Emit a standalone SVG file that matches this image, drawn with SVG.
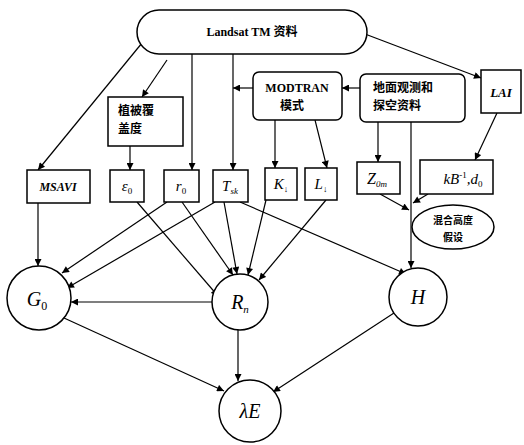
<svg xmlns="http://www.w3.org/2000/svg" width="524" height="445" viewBox="0 0 524 445">
<style>
.box{fill:#fff;stroke:#000;stroke-width:1.5}
.ln{fill:none;stroke:#000;stroke-width:1.2}
.m{font-family:"Liberation Serif","Noto Sans CJK SC",serif;font-style:italic;fill:#000;text-anchor:middle}
.c{font-family:"Liberation Serif","Noto Sans CJK SC",serif;font-weight:bold;fill:#000}
.a{marker-end:url(#ah)}
</style>
<defs>
<marker id="ah" viewBox="0 0 10 10" refX="10" refY="5" markerWidth="8" markerHeight="7" markerUnits="userSpaceOnUse" orient="auto">
<path d="M0,0 L10,5 L0,10 z" fill="#000"/>
</marker>
</defs>
<rect width="524" height="445" fill="#fff"/>
<g id="connectors">
<line class="ln a" x1="142" y1="43" x2="38" y2="170"/>
<line class="ln a" x1="167" y1="60" x2="142" y2="97"/>
<line class="ln a" x1="192" y1="54" x2="192" y2="170"/>
<line class="ln a" x1="233" y1="54" x2="233" y2="170"/>
<line class="ln a" x1="365" y1="34" x2="481" y2="78"/>
<line class="ln a" x1="130" y1="146" x2="130" y2="170"/>
<line class="ln a" x1="253" y1="88" x2="233" y2="88"/>
<line class="ln a" x1="360" y1="88" x2="342" y2="88"/>
<line class="ln a" x1="275" y1="120" x2="275" y2="168"/>
<line class="ln a" x1="315" y1="120" x2="327" y2="168"/>
<line class="ln a" x1="378" y1="122" x2="378" y2="162"/>
<line class="ln a" x1="411" y1="122" x2="411" y2="268"/>
<line class="ln a" x1="497" y1="113" x2="475" y2="160"/>
<line class="ln a" x1="380" y1="194" x2="409" y2="210"/>
<line class="ln a" x1="428" y1="194" x2="413" y2="203"/>
<line class="ln a" x1="38" y1="203" x2="38" y2="266"/>
<line class="ln a" x1="167" y1="202" x2="62" y2="273"/>
<line class="ln a" x1="215" y1="202" x2="67" y2="288"/>
<line class="ln a" x1="137" y1="202" x2="218" y2="296"/>
<line class="ln a" x1="182" y1="202" x2="233" y2="275"/>
<line class="ln a" x1="224" y1="202" x2="237" y2="274"/>
<line class="ln a" x1="266" y1="200" x2="248" y2="275"/>
<line class="ln a" x1="326" y1="200" x2="259" y2="280"/>
<line class="ln a" x1="240" y1="202" x2="406" y2="274"/>
<line class="ln a" x1="212" y1="302" x2="71" y2="302"/>
<line class="ln a" x1="64" y1="318" x2="224" y2="391"/>
<line class="ln a" x1="238" y1="330" x2="238" y2="381"/>
<line class="ln a" x1="394" y1="313" x2="273" y2="392"/>
</g>
<g id="landsat">
<rect class="box" x="137" y="10" width="230" height="44" rx="22"/>
<text class="c" x="252" y="36" font-size="12" text-anchor="middle">Landsat TM 资料</text>
</g>
<g id="veg">
<rect class="box" x="108" y="97" width="75" height="49"/>
<text class="c" x="118" y="115" font-size="12">植被覆</text>
<text class="c" x="118" y="133" font-size="12">盖度</text>
</g>
<g id="modtran">
<rect class="box" x="253" y="72" width="89" height="48" rx="6"/>
<text class="c" x="297" y="92" font-size="12" text-anchor="middle">MODTRAN</text>
<text class="c" x="292" y="110" font-size="12" text-anchor="middle">模式</text>
</g>
<g id="ground">
<rect class="box" x="360" y="74" width="105" height="48" rx="6"/>
<text class="c" x="373" y="92" font-size="12">地面观测和</text>
<text class="c" x="373" y="110" font-size="12">探空资料</text>
</g>
<g id="lai">
<rect class="box" x="481" y="70" width="40" height="43"/>
<text class="m" x="501" y="97" font-size="13" font-weight="bold">LAI</text>
</g>
<g id="msavi">
<rect class="box" x="27" y="170" width="63" height="33"/>
<text class="m" x="58" y="191" font-size="12" font-weight="bold">MSAVI</text>
</g>
<g id="eps0">
<rect class="box" x="110" y="170" width="34" height="32"/>
<text class="m" x="127" y="191" font-size="15">ε<tspan font-size="9" dy="3" font-style="normal">0</tspan></text>
</g>
<g id="r0">
<rect class="box" x="164" y="170" width="35" height="32"/>
<text class="m" x="181" y="191" font-size="15">r<tspan font-size="9" dy="3" font-style="normal">0</tspan></text>
</g>
<g id="tsk">
<rect class="box" x="213" y="170" width="35" height="32"/>
<text class="m" x="230" y="191" font-size="15">T<tspan font-size="9" dy="3">sk</tspan></text>
</g>
<g id="kdown">
<rect class="box" x="265" y="168" width="32" height="32"/>
<text class="m" x="281" y="189" font-size="15">K<tspan font-size="9" dy="3" font-style="normal">↓</tspan></text>
</g>
<g id="ldown">
<rect class="box" x="305" y="168" width="32" height="32"/>
<text class="m" x="321" y="189" font-size="15">L<tspan font-size="9" dy="3" font-style="normal">↓</tspan></text>
</g>
<g id="z0m">
<rect class="box" x="357" y="162" width="43" height="32"/>
<text class="m" x="377" y="184" font-size="16">Z<tspan font-size="9" dy="3">0m</tspan></text>
</g>
<g id="kb">
<rect class="box" x="420" y="160" width="73" height="34"/>
<text class="m" x="463" y="184" font-size="15">kB<tspan font-size="9" dy="-6" font-style="normal">-1</tspan><tspan dy="6">,d</tspan><tspan font-size="9" dy="3" font-style="normal">0</tspan></text>
</g>
<g id="mixing">
<ellipse class="box" cx="453" cy="227" rx="41" ry="22"/>
<text class="c" x="453" y="224" font-size="10" text-anchor="middle">混合高度</text>
<text class="c" x="453" y="241" font-size="10" text-anchor="middle">假设</text>
</g>
<g id="g0">
<circle class="box" cx="39" cy="298" r="32"/>
<text class="m" x="37" y="306" font-size="20">G<tspan font-size="12" dy="4" font-style="normal">0</tspan></text>
</g>
<g id="rn">
<circle class="box" cx="240" cy="302" r="28"/>
<text class="m" x="240" y="309" font-size="20">R<tspan font-size="11" dy="4">n</tspan></text>
</g>
<g id="h">
<circle class="box" cx="418" cy="297" r="29"/>
<text class="m" x="418" y="304" font-size="20">H</text>
</g>
<g id="le">
<circle class="box" cx="250" cy="411" r="31"/>
<text class="m" x="250" y="418" font-size="20">λE</text>
</g>
</svg>
